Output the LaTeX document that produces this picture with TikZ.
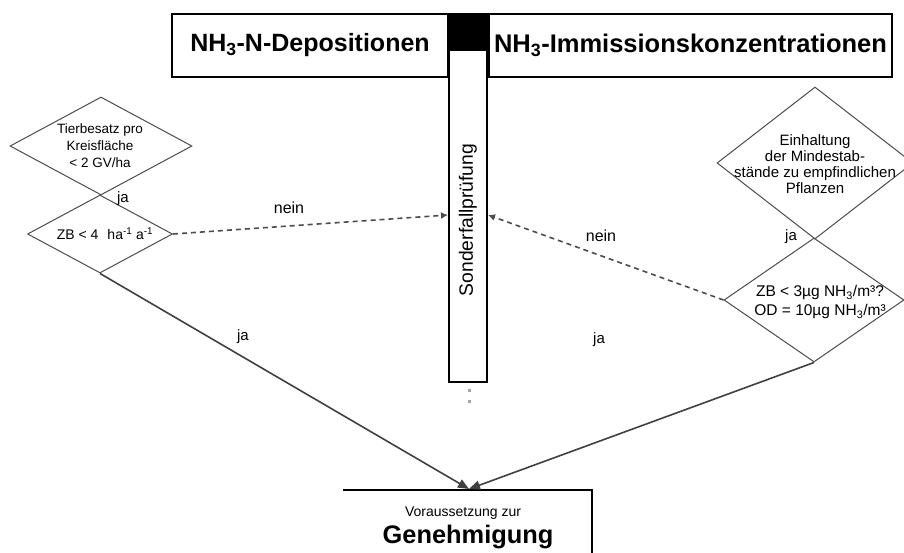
\documentclass[tikz,border=0pt]{standalone}
\usepackage{fontspec}
\setmainfont{Liberation Sans}
\usetikzlibrary{shapes.geometric,arrows.meta}
\begin{document}
\begin{tikzpicture}[x=1pt,y=-1pt,
  titlebox/.style={draw,line width=2pt,inner sep=0,minimum height=63pt},
  dia/.style={draw=black!70,line width=1pt,diamond,inner sep=0},
  flow/.style={draw=black!75,line width=1.6pt,-{Triangle[length=11pt,width=9pt]}},
  dashy/.style={draw=black!70,line width=1.6pt,dash pattern=on 5pt off 4pt,-{Latex[length=7pt,width=7pt]}},
  lbl/.style={inner sep=0,font=\fontsize{15}{17}\selectfont},
  dtext/.style={inner sep=0,align=center},
]
\useasboundingbox (0,0) rectangle (904,553);

% top boxes
\node[titlebox,minimum width=276pt] (tl) at (310,45.5)
  {\fontsize{25}{28}\selectfont\bfseries NH\textsubscript{3}-N-Depositionen};
\node[titlebox,minimum width=403pt] (tr) at (690.5,45.5)
  {\fontsize{25.5}{28}\selectfont\bfseries NH\textsubscript{3}-Immissionskonzentrationen};
\node[fill=black,draw,line width=2pt,inner sep=0,minimum width=38pt,minimum height=36pt] (blk) at (468,32) {};
\node[draw,fill=white,line width=2pt,inner sep=0,minimum width=38pt,minimum height=332pt] (col) at (468,216) {};
\node[rotate=90,inner sep=0,font=\fontsize{19.3}{21}\selectfont] (colt) at (468,220) {Sonderfallprüfung};
\coordinate (cL) at (448,215);
\coordinate (cR) at (488,215);
\coordinate (dd1) at (469,389);
\coordinate (dd2) at (469,405);
\draw[gray!70,line width=3pt,dash pattern=on 3pt off 8pt] (dd1) -- (dd2);

% left diamonds
\node[dia,minimum width=182pt,minimum height=98pt] (dL1) at (101,146) {};
\node[dtext,font=\fontsize{13.5}{17}\selectfont] (dL1t) at (100,146) {Tierbesatz pro\\Kreisfläche\\ < 2 GV/ha};
\node[dia,minimum width=145pt,minimum height=78pt] (dL2) at (100,234) {};
\node[dtext,font=\fontsize{14}{15}\selectfont] (dL2t) at (105,234) {ZB < 4\hspace{9pt}ha\textsuperscript{-1} a\textsuperscript{-1}};

% right diamonds
\node[dia,minimum width=196pt,minimum height=152pt] (dR1) at (815,163) {};
\node[dtext,font=\fontsize{15}{16}\selectfont] (dR1t) at (815,164) {Einhaltung\\der Mindestab-\\stände zu empfindlichen\\Pflanzen};
\node[dia,minimum width=180pt,minimum height=124pt] (dR2) at (814,300) {};
\node[dtext,font=\fontsize{15.5}{19}\selectfont] (dR2t) at (820,302) {ZB < 3µg NH\textsubscript{3}/m³?\\OD = 10µg NH\textsubscript{3}/m³};

% goal
\coordinate (G) at (469,489);
\coordinate (bl) at (343,490);
\coordinate (br) at (592,490);
\coordinate (bb) at (592,553);
\draw[line width=2pt] (bl) -- (br) -- (bb);
\node[inner sep=0,font=\fontsize{14}{16}\selectfont] (vz) at (463,513) {Voraussetzung zur};
\node[inner sep=0,font=\fontsize{25.4}{28}\selectfont\bfseries] (gen) at (468,537) {Genehmigung};

% connectors
\draw[flow] (dL2.south) -- (G);
\draw[flow] (dR2.south) -- (G);
\draw[dashy] (dL2.east) -- (cL);
\draw[dashy] (dR2.west) -- (cR);

% labels
\node[lbl] (ja1) at (123,199) {ja};
\node[lbl,font=\fontsize{16}{18}\selectfont] (nein1) at (289,208) {nein};
\node[lbl] (ja2) at (243,337) {ja};
\node[lbl,font=\fontsize{16}{18}\selectfont] (nein2) at (601,236) {nein};
\node[lbl] (ja3) at (791,237) {ja};
\node[lbl] (ja4) at (599,340) {ja};
\end{tikzpicture}
\end{document}
